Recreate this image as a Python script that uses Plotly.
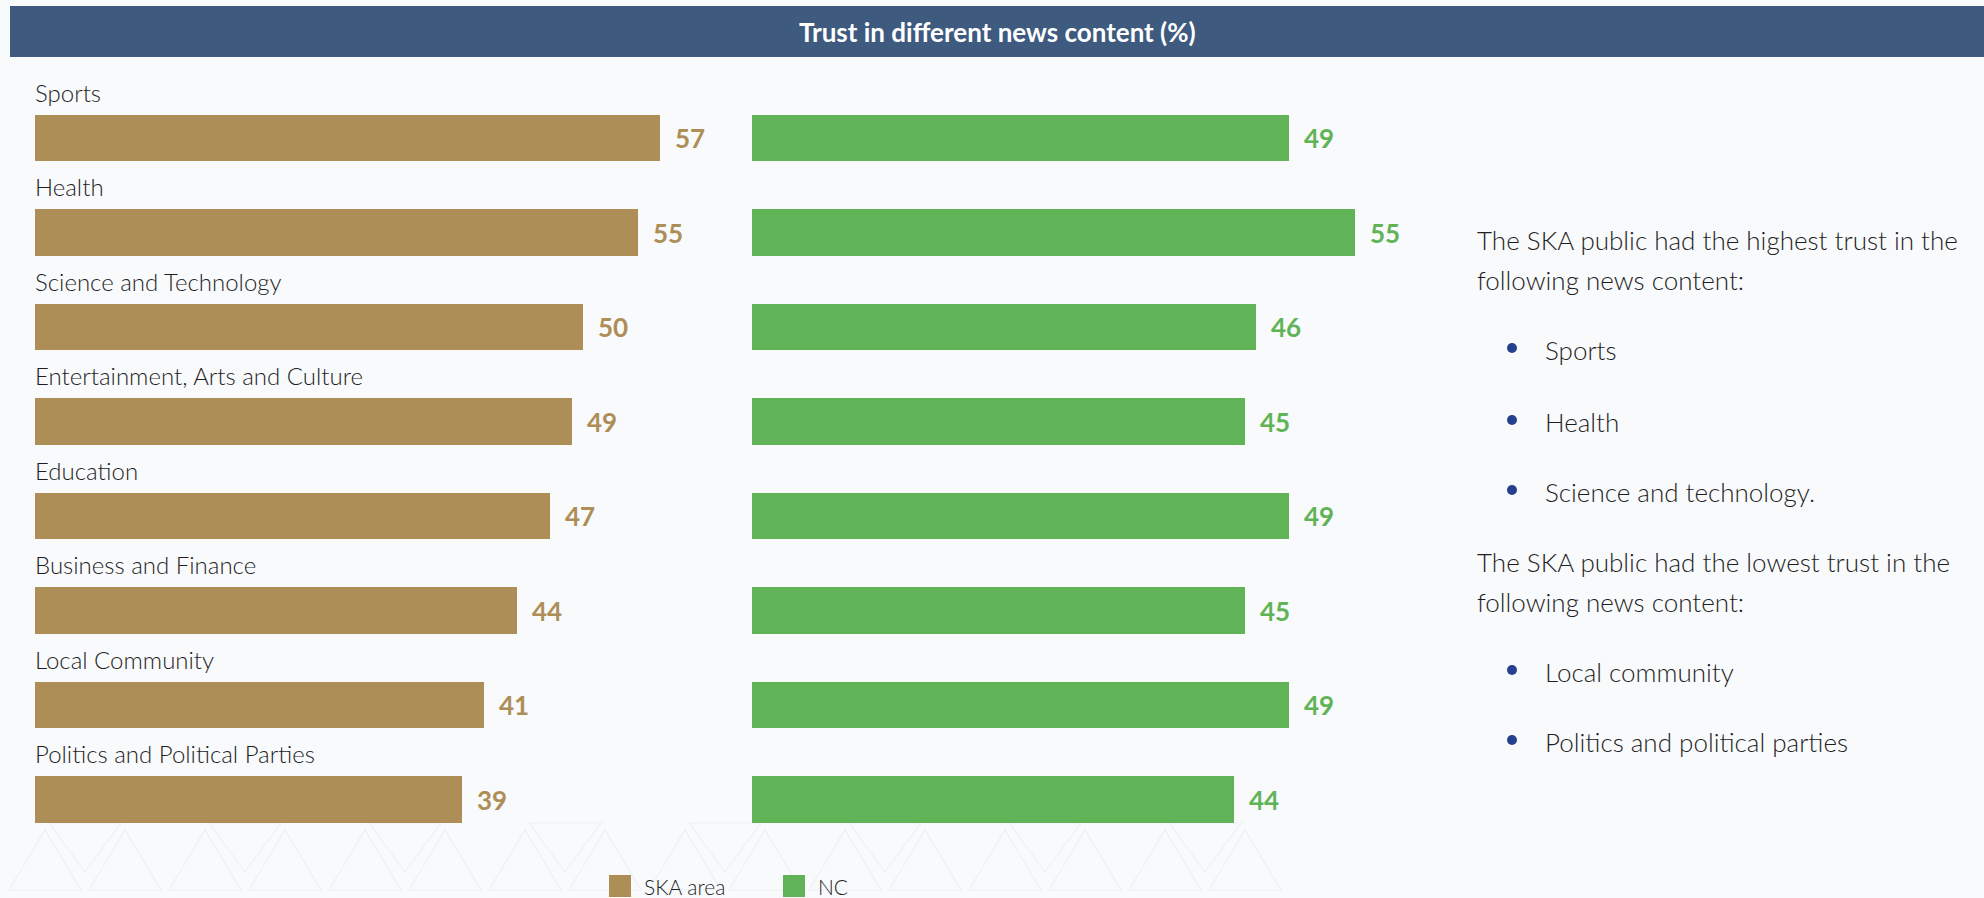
import plotly.graph_objects as go

# ---- data -------------------------------------------------------------
categories = [
    "Sports",
    "Health",
    "Science and Technology",
    "Entertainment, Arts and Culture",
    "Education",
    "Business and Finance",
    "Local Community",
    "Politics and Political Parties",
]
ska_area = [57, 55, 50, 49, 47, 44, 41, 39]
nc = [49, 55, 46, 45, 49, 45, 49, 44]
series_names = ["SKA area", "NC"]

chart_title = "Trust in different news content (%)"
highest_intro = ["The SKA public had the highest trust in the", "following news content:"]
highest_items = ["Sports", "Health", "Science and technology."]
lowest_intro = ["The SKA public had the lowest trust in the", "following news content:"]
lowest_items = ["Local community", "Politics and political parties"]

# ---- styling ------------------------------------------------------------
W, H = 1984, 898
SKA_COLOR = "#ae8e57"
NC_COLOR = "#60b457"
BAR_BG = "#3e5a7e"
BG = "#f9fafc"
TEXT = "#1e1e1e"
BULLET = "#25408f"
FONT = "Lato"

PX_PER_UNIT = 10.96
X_MAX = 60
ROW_TOP = 138.0      # pixel centre of first row
ROW_STEP = 94.5      # pixel distance between rows


def px(x):
    return x / W


def py(y):
    return 1 - y / H


fig = go.Figure()

fig.add_trace(go.Bar(
    x=ska_area, y=categories, orientation="h", name=series_names[0],
    marker=dict(color=SKA_COLOR, line=dict(width=0)), width=0.487,
    xaxis="x", yaxis="y", showlegend=False, hoverinfo="x+y",
))
fig.add_trace(go.Bar(
    x=nc, y=categories, orientation="h", name=series_names[1],
    marker=dict(color=NC_COLOR, line=dict(width=0)), width=0.487,
    xaxis="x2", yaxis="y", showlegend=False, hoverinfo="x+y",
))

annotations = []
shapes = []

# category labels above each pair of bars
for cat in categories:
    annotations.append(dict(
        x=px(33), xref="paper", y=cat, yref="y", yshift=46,
        text=cat, showarrow=False, xanchor="left", yanchor="middle",
        font=dict(family=FONT, size=24, color=TEXT, weight=300),
    ))

# value labels at the end of each bar
for cat, v in zip(categories, ska_area):
    annotations.append(dict(
        x=v, xref="x", y=cat, yref="y", xshift=13, text=str(v),
        showarrow=False, xanchor="left", yanchor="middle",
        font=dict(family=FONT, size=26, color=SKA_COLOR, weight="bold"),
    ))
for cat, v in zip(categories, nc):
    annotations.append(dict(
        x=v, xref="x2", y=cat, yref="y", xshift=13, text=str(v),
        showarrow=False, xanchor="left", yanchor="middle",
        font=dict(family=FONT, size=26, color=NC_COLOR, weight="bold"),
    ))

# decorative triangle band along the bottom
TRI_COLOR = "#eef0f4"
for k in range(16):
    cx = 45 + 80 * k
    shapes.append(dict(
        type="path", xref="paper", yref="paper", layer="below",
        path=f"M {px(cx-36)} {py(890)} L {px(cx)} {py(830)} L {px(cx+36)} {py(890)} Z",
        line=dict(color=TRI_COLOR, width=1.2), fillcolor="rgba(0,0,0,0)",
    ))
    if k % 2 == 0:
        dx = 85 + 80 * k
        shapes.append(dict(
            type="path", xref="paper", yref="paper", layer="below",
            path=f"M {px(dx-36)} {py(823)} L {px(dx)} {py(872)} L {px(dx+36)} {py(823)} Z",
            line=dict(color=TRI_COLOR, width=1.2), fillcolor="rgba(0,0,0,0)",
        ))

# title banner
shapes.append(dict(
    type="rect", xref="paper", yref="paper", layer="below",
    x0=px(10), x1=1, y0=py(57), y1=py(6),
    fillcolor=BAR_BG, line=dict(width=0),
))
annotations.append(dict(
    x=px(997), xref="paper", y=py(31.5), yref="paper", text=chart_title,
    showarrow=False, xanchor="center", yanchor="middle",
    font=dict(family=FONT, size=26, color="white", weight="bold"),
))

# commentary text on the right
def add_line(text, y, x=1475):
    annotations.append(dict(
        x=px(x), xref="paper", y=py(y), yref="paper", text=text,
        showarrow=False, xanchor="left", yanchor="middle",
        font=dict(family=FONT, size=26, color=TEXT, weight=300),
    ))


def add_bullet(text, y):
    shapes.append(dict(
        type="circle", xref="paper", yref="paper",
        x0=px(1507), x1=px(1517), y0=py(y + 3), y1=py(y - 7),
        fillcolor=BULLET, line=dict(width=0),
    ))
    add_line(text, y, x=1543)


for text, y in zip(highest_intro, [240, 280]):
    add_line(text, y)
for text, y in zip(highest_items, [350, 422, 492]):
    add_bullet(text, y)
for text, y in zip(lowest_intro, [562, 602]):
    add_line(text, y)
for text, y in zip(lowest_items, [672, 742]):
    add_bullet(text, y)

# legend
for name, color, sx in zip(series_names, [SKA_COLOR, NC_COLOR], [609, 783]):
    shapes.append(dict(
        type="rect", xref="paper", yref="paper",
        x0=px(sx), x1=px(sx + 22), y0=py(897), y1=py(875),
        fillcolor=color, line=dict(width=0),
    ))
    annotations.append(dict(
        x=px(sx + 33), xref="paper", y=py(886), yref="paper", text=name,
        showarrow=False, xanchor="left", yanchor="middle",
        font=dict(family=FONT, size=21, color=TEXT, weight=300),
    ))

y_lo = -ROW_TOP / ROW_STEP
y_hi = (H - ROW_TOP) / ROW_STEP
span = X_MAX * PX_PER_UNIT

fig.update_layout(
    width=W, height=H,
    margin=dict(l=0, r=0, t=0, b=0),
    paper_bgcolor=BG, plot_bgcolor="rgba(0,0,0,0)",
    xaxis=dict(domain=[px(35), px(35 + span)], range=[0, X_MAX],
               visible=False, fixedrange=True, anchor="y"),
    xaxis2=dict(domain=[px(752), px(752 + span)], range=[0, X_MAX],
                visible=False, fixedrange=True, anchor="y"),
    yaxis=dict(domain=[0, 1], type="category", categoryorder="array",
               categoryarray=categories, range=[y_hi, y_lo],
               visible=False, fixedrange=True),
    bargap=0, barmode="overlay",
    annotations=annotations, shapes=shapes,
    showlegend=False,
)

fig.write_html("out.html")
